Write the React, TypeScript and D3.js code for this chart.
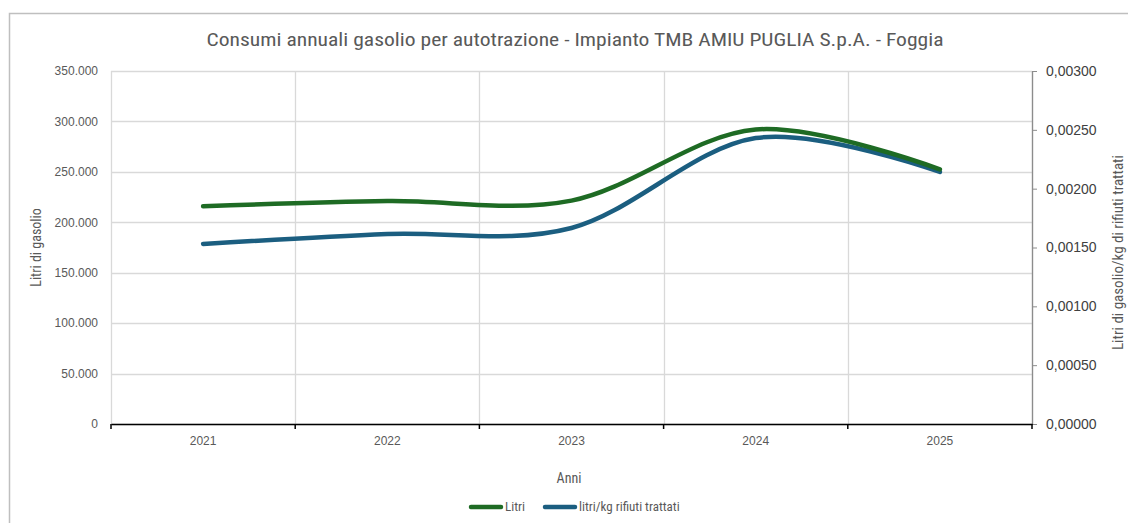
import React, { useRef, useEffect } from 'react';
import * as d3 from 'd3';

// Chart data
const years = ['2021', '2022', '2023', '2024', '2025'];
const litri = [216000, 221000, 221500, 292000, 252500];
const litriPerKg = [0.00153, 0.001615, 0.001666, 0.00243, 0.002142];
const leftTicks = [0, 50000, 100000, 150000, 200000, 250000, 300000, 350000];
const rightTicks = [0, 0.0005, 0.001, 0.0015, 0.002, 0.0025, 0.003];

const W = 1128;
const H = 523;
const textColor = '#595959';
const gridColor = '#d9d9d9';
const greenColor = '#1e6b24';
const blueColor = '#1b5e80';
const narrow = "'Liberation Sans Narrow', 'Roboto Condensed', Roboto, sans-serif";
const sans = "'Liberation Sans', Arial, sans-serif";

const App = () => {
  const ref = useRef<SVGSVGElement | null>(null);

  useEffect(() => {
    const svg = d3.select(ref.current);
    svg.selectAll('*').remove();

    const margin = { top: 71, right: 96, bottom: 99, left: 111 };
    const plotW = W - margin.left - margin.right;
    const plotH = H - margin.top - margin.bottom;

    // Chart frame
    svg.append('path')
      .attr('d', `M9.5,${H + 5}V13.5H${W + 5}`)
      .attr('fill', 'none')
      .attr('stroke', '#bfbfbf')
      .attr('stroke-width', 1.5);

    // Title
    svg.append('text')
      .attr('x', 575)
      .attr('y', 46)
      .attr('text-anchor', 'middle')
      .attr('font-family', narrow)
      .attr('font-size', 19)
      .attr('fill', textColor)
      .attr('textLength', 737)
      .attr('lengthAdjust', 'spacingAndGlyphs')
      .text('Consumi annuali gasolio per autotrazione - Impianto TMB AMIU PUGLIA S.p.A. - Foggia');

    const g = svg.append('g').attr('transform', `translate(${margin.left},${margin.top})`);

    // Scales
    const x = d3.scaleBand().domain(years).range([0, plotW]).padding(0);
    const yL = d3.scaleLinear().domain([0, 350000]).range([plotH, 0]);
    const yR = d3.scaleLinear().domain([0, 0.003]).range([plotH, 0]);

    // Gridlines
    g.append('g')
      .selectAll('line')
      .data(leftTicks)
      .enter()
      .append('line')
      .attr('x1', 0)
      .attr('x2', plotW)
      .attr('y1', d => Math.round(yL(d)) + 0.5)
      .attr('y2', d => Math.round(yL(d)) + 0.5)
      .attr('stroke', gridColor)
      .attr('stroke-width', 1.3);

    const bounds = years.map(d => x(d) as number).concat([plotW]);
    g.append('g')
      .selectAll('line')
      .data(bounds)
      .enter()
      .append('line')
      .attr('x1', d => Math.round(d) + 0.5)
      .attr('x2', d => Math.round(d) + 0.5)
      .attr('y1', 0)
      .attr('y2', plotH)
      .attr('stroke', gridColor)
      .attr('stroke-width', 1.3);

    // Left axis labels
    const fmtL = (v: number) => v === 0 ? '0' : d3.format(',')(v).replace(/,/g, '.');
    const leftAxis = g.append('g')
      .call(d3.axisLeft(yL).tickValues(leftTicks).tickSize(0).tickPadding(13).tickFormat(d => fmtL(+d)));
    leftAxis.select('.domain').remove();
    leftAxis.selectAll('text')
      .attr('font-family', sans)
      .attr('font-size', 12)
      .attr('fill', textColor);

    // Right axis
    const rightAxis = g.append('g')
      .attr('transform', `translate(${plotW},0)`)
      .call(d3.axisRight(yR).tickValues(rightTicks).tickSizeInner(5).tickSizeOuter(0).tickPadding(9)
        .tickFormat(d => d3.format('.5f')(+d).replace('.', ',')));
    rightAxis.select('.domain').attr('stroke', '#8c8c8c').attr('stroke-width', 1.3);
    rightAxis.selectAll('line').attr('stroke', '#8c8c8c');
    rightAxis.selectAll('text')
      .attr('font-family', sans)
      .attr('font-size', 14)
      .attr('fill', '#404040');

    // Bottom axis
    const bottomAxis = g.append('g')
      .attr('transform', `translate(0,${plotH})`)
      .call(d3.axisBottom(x).tickSize(0).tickPadding(12));
    bottomAxis.select('.domain').attr('stroke', '#000').attr('stroke-width', 1.6);
    bottomAxis.selectAll('text')
      .attr('font-family', sans)
      .attr('font-size', 12)
      .attr('fill', textColor);
    bottomAxis.selectAll('.boundTick')
      .data(bounds)
      .enter()
      .append('line')
      .attr('x1', d => d)
      .attr('x2', d => d)
      .attr('y1', 0)
      .attr('y2', 5)
      .attr('stroke', '#000')
      .attr('stroke-width', 1.5);

    // Lines (smoothed like the spreadsheet's curves)
    const cx = (i: number) => (x(years[i]) as number) + x.bandwidth() / 2;
    const lineL = d3.line<number>()
      .x((_, i) => cx(i))
      .y(d => yL(d))
      .curve(d3.curveCardinal.tension(0));
    const lineR = d3.line<number>()
      .x((_, i) => cx(i))
      .y(d => yR(d))
      .curve(d3.curveCardinal.tension(0));

    g.append('path')
      .datum(litriPerKg)
      .attr('d', lineR)
      .attr('fill', 'none')
      .attr('stroke', blueColor)
      .attr('stroke-width', 4.5)
      .attr('stroke-linecap', 'round');

    g.append('path')
      .datum(litri)
      .attr('d', lineL)
      .attr('fill', 'none')
      .attr('stroke', greenColor)
      .attr('stroke-width', 4.5)
      .attr('stroke-linecap', 'round');

    // Axis titles
    svg.append('text')
      .attr('transform', `translate(41,${margin.top + plotH / 2}) rotate(-90)`)
      .attr('text-anchor', 'middle')
      .attr('font-family', narrow)
      .attr('font-size', 14)
      .attr('fill', textColor)
      .text('Litri di gasolio');

    svg.append('text')
      .attr('transform', `translate(1123,${margin.top + plotH / 2 + 5}) rotate(-90)`)
      .attr('text-anchor', 'middle')
      .attr('font-family', narrow)
      .attr('font-size', 14)
      .attr('fill', textColor)
      .attr('textLength', 195)
      .attr('lengthAdjust', 'spacingAndGlyphs')
      .text('Litri di gasolio/kg di rifiuti trattati');

    svg.append('text')
      .attr('x', 569)
      .attr('y', 483)
      .attr('text-anchor', 'middle')
      .attr('font-family', narrow)
      .attr('font-size', 14)
      .attr('fill', textColor)
      .text('Anni');

    // Legend
    const legend = [
      { name: 'Litri', color: greenColor, x: 471 },
      { name: 'litri/kg rifiuti trattati', color: blueColor, x: 545 },
    ];
    const lg = svg.append('g');
    legend.forEach(item => {
      lg.append('line')
        .attr('x1', item.x)
        .attr('x2', item.x + 30)
        .attr('y1', 507)
        .attr('y2', 507)
        .attr('stroke', item.color)
        .attr('stroke-width', 4.5)
        .attr('stroke-linecap', 'round');
      lg.append('text')
        .attr('x', item.x + 34)
        .attr('y', 511)
        .attr('font-family', narrow)
        .attr('font-size', 13)
        .attr('fill', textColor)
        .text(item.name);
    });
  }, []);

  return (
    <svg
      ref={ref}
      width={W}
      height={H}
      style={{ position: 'absolute', left: 0, top: 0, background: '#fff' }}
    />
  );
};

export default App;
